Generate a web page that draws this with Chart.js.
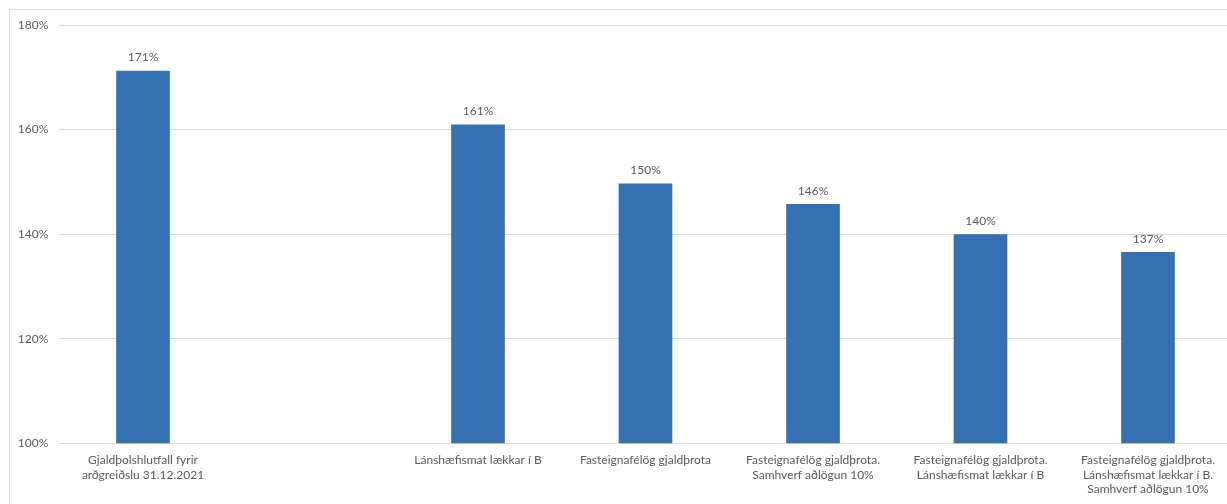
<!DOCTYPE html>
<html>
<head>
<meta charset="utf-8">
<script src="https://cdn.jsdelivr.net/npm/chart.js@4.4.1/dist/chart.umd.min.js"></script>
<style>
  html, body { margin: 0; padding: 0; background: #fff; overflow: hidden; }
  #wrap { position: absolute; left: 0; top: 0; width: 1240px; height: 504px; }
</style>
</head>
<body>
<div id="wrap"><canvas id="chart"></canvas></div>
<script>
// Gjaldþolshlutfall eftir sviðsmyndum (%)
const categories = [
  ['Gjaldþolshlutfall fyrir', 'arðgreiðslu 31.12.2021'],
  '',
  'Lánshæfismat lækkar í B',
  'Fasteignafélög gjaldþrota',
  ['Fasteignafélög gjaldþrota.', 'Samhverf aðlögun 10%'],
  ['Fasteignafélög gjaldþrota.', 'Lánshæfismat lækkar í B'],
  ['Fasteignafélög gjaldþrota.', 'Lánshæfismat lækkar í B.', 'Samhverf aðlögun 10%']
];
const solvencyRatio = [171.2, null, 160.9, 149.6, 145.7, 139.9, 136.5];
const yTicks = [100, 120, 140, 160, 180];

const TEXT = '#595959';
const FONT = 'Lato, "Liberation Sans", sans-serif';

// light frame around the chart
const frame = {
  id: 'frame',
  beforeDraw(chart) {
    const c = chart.ctx;
    c.save();
    c.strokeStyle = '#d9d9d9';
    c.lineWidth = 1;
    c.strokeRect(9.5, 9.5, chart.width + 20, chart.height + 40);
    c.restore();
  }
};

// value labels above each bar
const valueLabels = {
  id: 'valueLabels',
  afterDatasetsDraw(chart) {
    const c = chart.ctx;
    const meta = chart.getDatasetMeta(0);
    c.save();
    c.font = '12px ' + FONT;
    c.fillStyle = TEXT;
    c.textAlign = 'center';
    c.textBaseline = 'middle';
    meta.data.forEach((bar, i) => {
      const v = solvencyRatio[i];
      if (v == null) return;
      c.fillText(Math.round(v) + '%', bar.x, bar.y - 13.5);
    });
    c.restore();
  }
};

new Chart(document.getElementById('chart'), {
  type: 'bar',
  data: {
    labels: categories,
    datasets: [{
      data: solvencyRatio,
      backgroundColor: '#3570B3',
      borderWidth: 0,
      barThickness: 53
    }]
  },
  options: {
    responsive: true,
    maintainAspectRatio: false,
    animation: false,
    layout: { padding: { left: 0, right: 8.25, top: 25, bottom: 0 } },
    plugins: { legend: { display: false }, tooltip: { enabled: false } },
    scales: {
      x: {
        grid: { display: false, drawTicks: false },
        border: { display: false },
        ticks: {
          color: TEXT,
          font: { family: FONT, size: 12, lineHeight: 1.2 },
          padding: 10,
          maxRotation: 0,
          autoSkip: false
        },
        afterFit(s) { s.height = 60.7; }
      },
      y: {
        min: 100,
        max: 180,
        afterBuildTicks(s) { s.ticks = yTicks.map(v => ({ value: v })); },
        grid: { color: '#d9d9d9', drawTicks: false },
        border: { display: false },
        ticks: {
          color: TEXT,
          font: { family: FONT, size: 12 },
          padding: 11,
          callback: v => v + '%'
        },
        afterFit(s) { s.width = 59.25; }
      }
    }
  },
  plugins: [frame, valueLabels]
});
</script>
</body>
</html>
